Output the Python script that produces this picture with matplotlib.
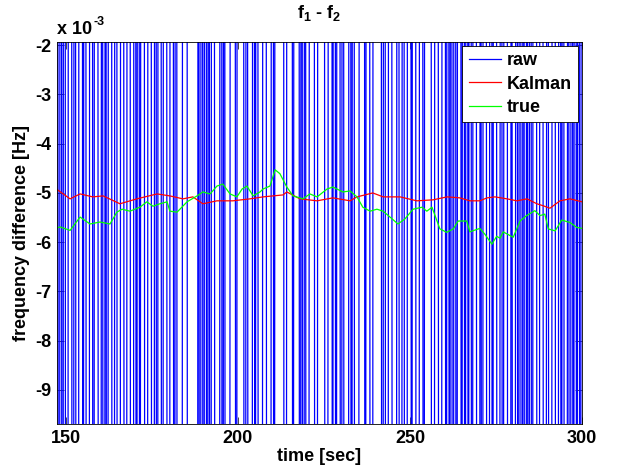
import matplotlib
matplotlib.use('Agg')
import matplotlib.pyplot as plt
import numpy as np

plt.rcParams['font.family'] = ['Liberation Sans', 'DejaVu Sans']
plt.rcParams['font.weight'] = 'bold'
plt.rcParams['mathtext.fontset'] = 'custom'
plt.rcParams['mathtext.rm'] = 'Liberation Sans:bold'
plt.rcParams['mathtext.it'] = 'Liberation Sans:bold'
plt.rcParams['mathtext.bf'] = 'Liberation Sans:bold'

# raw frequency difference, sampled every 0.5 s from 147.5 s (units of 1e-3 Hz)
raw_t0 = 147.5
raw_dt = 0.5
raw_mhz = [
    22, -47, 48, -58, 61, -43, -29, 53, 33, -64,
    35, -26, -58, 61, 40, -29, 53, -36, -64, 22,
    48, -58, 61, 40, -29, -52, 33, -64, 22, -47,
    29, 61, -43, -29, 53, -36, -64, 22, 35, -26,
    -38, 40, 27, -52, -36, 44, -31, 35, -26, 29,
    40, -29, -52, 33, 44, -31, -47, 48, -58, 61,
    27, -52, 33, 44, -31, -47, 48, 29, -38, 40,
    -52, -36, -64, 22, 35, 48, -58, -38, -43, -29,
    -36, -64, 22, -47, 48, -58, 61, -43, 27, -52,
    44, 22, -47, -26, -58, 61, -43, 27, -52, -36,
    -31, 35, 48, 29, -38, 40, 27, 53, 33, -64,
    35, -26, -58, -38, 40, -29, 53, -36, -64, -31,
    48, 29, -38, -43, -29, 53, -36, 44, 22, 35,
    29, 61, -43, -29, 53, 33, 44, -31, 35, 48,
    61, -43, 27, -52, 33, -64, -31, 35, 48, 29,
    -43, -29, 53, 33, 44, 22, -47, -26, 29, 61,
    -29, 53, -36, 44, 22, -47, 48, -58, -38, -43,
    53, -36, 44, -31, -47, -26, 29, 61, 40, -29,
    33, 44, -31, -47, 48, 29, 61, 40, 27, -52,
    44, -31, -47, 48, 29, -38, -43, -29, 53, -36,
    -31, 35, -26, -58, 61, 40, -29, 53, 33, -64,
    -47, 48, 29, -38, 40, 27, 53, 33, -64, -31,
    48, 29, -38, -43, 27, 53, -36, 44, -31, 35,
    -58, 61, -43, 27, 53, -36, 44, -31, 35, -26,
    61, -43, 27, 53, -36, -64, 22, -47, 48, 29,
    -43, -29, 53, -36, 44, 22, -47, -26, 29, -38,
    27, 53, -36, -64, 22, -47, -26, 29, -38, 40,
    -52, 33, -64, 22, -47, 48, -58, 61, 40, -29,
    -36, 44, 22, -47, -26, 29, -38, -43, 27, 53,
    -64, -31, 35, -26, 29, -38, -43, 27, -52, 33,
    -31, 35, -26, 29, -38, 40,
]

# Kalman filter estimate (time [s], value [1e-3 Hz])
kalman_t = [147.4, 151.2, 154.1, 157.8, 160.8, 165.7, 170.6, 176.5, 180.2, 184.0,
            186.9, 189.8, 193.9, 198.5, 203.5, 207.3, 210.2, 213.1, 214.2, 218.0,
            223.0, 227.6, 232.6, 234.6, 239.2, 242.2, 247.1, 252.0, 256.7, 260.8,
            264.5, 267.4, 270.3, 272.4, 274.7, 278.2, 281.1, 284.0, 286.9, 288.7,
            290.7, 293.6, 296.5, 300.0]
kalman_mhz = [-4.93, -5.12, -5.02, -5.08, -5.06, -5.22, -5.12, -5.02, -5.06, -5.12,
              -5.08, -5.22, -5.16, -5.16, -5.12, -5.08, -5.06, -5.04, -4.98, -5.12,
              -5.16, -5.10, -5.16, -5.08, -5.00, -5.08, -5.08, -5.16, -5.14, -5.08,
              -5.10, -5.16, -5.16, -5.10, -5.08, -5.12, -5.16, -5.12, -5.22, -5.26,
              -5.31, -5.16, -5.12, -5.18]

# true frequency difference (time [s], value [1e-3 Hz])
true_t = [147.4, 148.3, 151.2, 154.1, 157.0, 159.9, 162.8, 164.8, 166.3, 168.6,
          171.5, 173.5, 175.3, 177.3, 179.4, 180.2, 182.3, 185.2, 188.1, 189.8,
          191.9, 193.9, 195.6, 197.7, 199.7, 201.2, 202.6, 204.4, 206.4, 207.3,
          209.3, 210.8, 212.2, 214.2, 216.0, 218.9, 220.9, 223.0, 225.9, 227.6,
          230.5, 232.6, 234.6, 236.3, 238.4, 240.4, 242.2, 244.2, 246.5, 248.5,
          250.9, 253.5, 254.9, 256.4, 258.7, 260.7, 262.6, 264.0, 266.5, 267.4,
          270.3, 271.8, 273.8, 275.2, 276.2, 277.1, 280.0, 282.0, 283.9, 286.3,
          287.8, 289.2, 290.2, 292.2, 294.1, 296.5, 298.5, 300.0]
true_mhz = [-5.71, -5.69, -5.76, -5.49, -5.63, -5.59, -5.63, -5.39, -5.33, -5.37,
            -5.29, -5.18, -5.27, -5.22, -5.18, -5.37, -5.39, -5.18, -5.06, -4.98,
            -5.02, -4.86, -4.82, -5.02, -5.08, -4.92, -4.86, -5.06, -4.98, -4.92,
            -4.86, -4.53, -4.61, -4.88, -5.06, -5.12, -5.02, -5.08, -4.92, -4.88,
            -4.98, -4.96, -5.08, -5.29, -5.37, -5.33, -5.37, -5.49, -5.63, -5.53,
            -5.33, -5.29, -5.37, -5.29, -5.73, -5.80, -5.73, -5.57, -5.57, -5.79,
            -5.72, -5.84, -6.04, -5.88, -5.92, -5.79, -5.90, -5.57, -5.46, -5.36,
            -5.46, -5.43, -5.73, -5.77, -5.55, -5.60, -5.70, -5.72]

y_ticks = [-9, -8, -7, -6, -5, -4, -3, -2]
x_ticks = [150, 200, 250, 300]

raw_t = raw_t0 + raw_dt * np.arange(len(raw_mhz))

fig = plt.figure(figsize=(6.19, 4.75), dpi=100)
ax = fig.add_axes([0.0921, 0.1074, 0.8481, 0.8048])

ax.plot(raw_t, np.array(raw_mhz) * 1e-3, color=(0, 0, 1), lw=0.9, label='raw')
ax.plot(kalman_t, np.array(kalman_mhz) * 1e-3, color=(1, 0, 0), lw=0.9, label='Kalman')
ax.plot(true_t, np.array(true_mhz) * 1e-3, color=(0, 1, 0), lw=0.9, label='true')

ax.set_xlim(147.4, 300)
ax.set_ylim(-9.69e-3, -1.93e-3)
ax.set_xticks(x_ticks)
ax.set_yticks(np.array(y_ticks) * 1e-3)
ax.set_yticklabels([str(v) for v in y_ticks])
ax.tick_params(direction='in', length=5, width=0.5, top=True, right=True,
               labelsize=13, pad=4)
for s in ax.spines.values():
    s.set_linewidth(0.6)

# exponent label for the y axis
ax.text(0.0, 1.01, 'x 10', transform=ax.transAxes, fontsize=13,
        fontweight='bold', ha='left', va='bottom')
ax.text(0.069, 1.035, '-3', transform=ax.transAxes, fontsize=9,
        fontweight='bold', ha='left', va='bottom')

ax.set_title(r'$\mathregular{f_1}$ - $\mathregular{f_2}$', fontsize=13,
             fontweight='bold', pad=17)
ax.set_xlabel('time [sec]', fontsize=13, fontweight='bold', labelpad=1)
ax.set_ylabel('frequency difference [Hz]', fontsize=13, fontweight='bold', labelpad=4)

leg = ax.legend(loc='upper right', bbox_to_anchor=(0.9924, 0.9888), borderaxespad=0,
                fancybox=False, framealpha=1, edgecolor='black', handlelength=1.8,
                prop={'weight': 'bold', 'size': 13}, labelspacing=0.35,
                borderpad=0.35, handletextpad=0.3)
leg.get_frame().set_linewidth(0.6)

fig.savefig('out.png', dpi=100)
